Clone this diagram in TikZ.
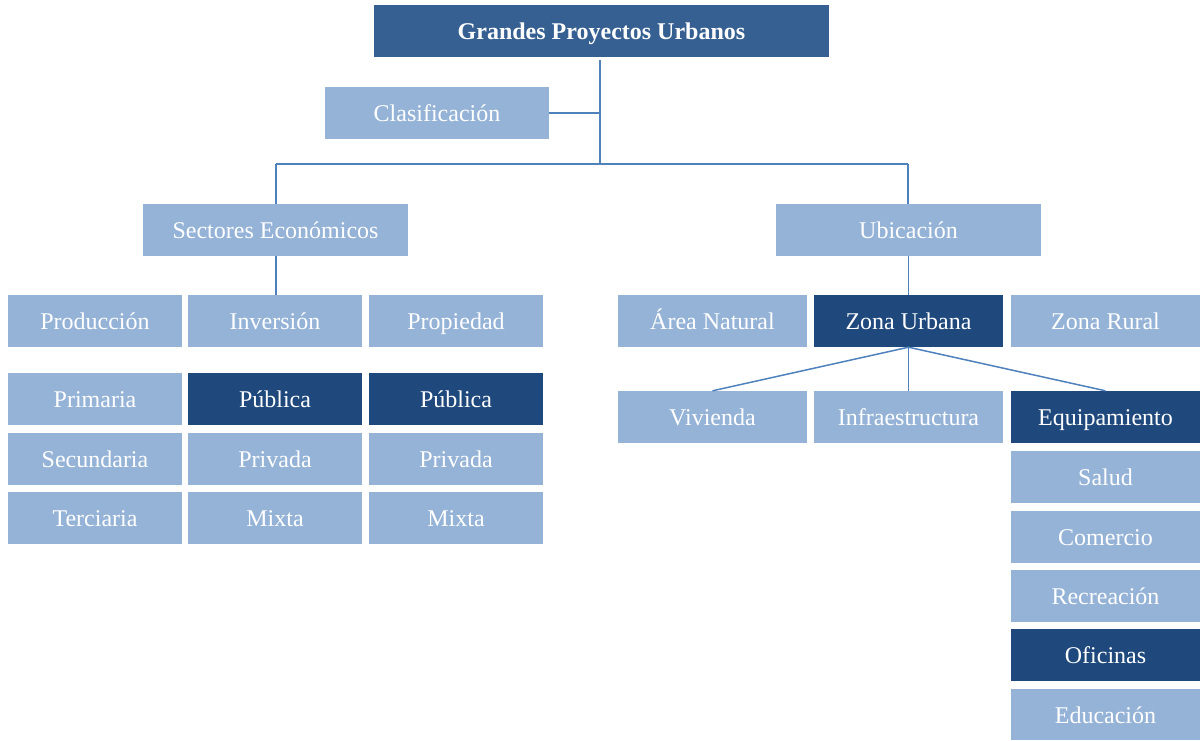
\documentclass[tikz,border=0pt]{standalone}
\usepackage{fontspec}
\setmainfont{Liberation Serif}
\definecolor{light}{RGB}{149,179,215}
\definecolor{dark}{RGB}{31,73,125}
\definecolor{mid}{RGB}{54,96,146}
\definecolor{conn}{RGB}{79,129,189}
\begin{document}
\begin{tikzpicture}[x=1pt,y=-1pt,
  box/.style={rectangle,inner sep=0pt,text=white,font=\fontsize{24}{28}\selectfont,text height=18pt,text depth=1pt},
  lbox/.style={box,fill=light},
  dbox/.style={box,fill=dark},
  conline/.style={draw=conn,line width=1.5pt}]
\useasboundingbox (0,0) rectangle (1200,740);
% helper: node by corners
\newcommand{\bx}[7]{\node[#1,minimum width={#4-#3},minimum height={#6-#5}] (#2) at ({(#3+#4)/2},{(#5+#6)/2}) {#7};}
\bx{box,fill=mid,font=\fontsize{24}{28}\selectfont\bfseries}{gpu}{374}{829}{5}{57}{Grandes Proyectos Urbanos}
\bx{lbox}{clas}{325}{549}{87}{139}{Clasificación}
\bx{lbox}{sec}{143}{408}{204}{256}{Sectores Económicos}
\bx{lbox}{ubi}{776}{1041}{204}{256}{Ubicación}
% left row 1
\bx{lbox}{prod}{8}{182}{295}{347}{Producción}
\bx{lbox}{inv}{188}{362}{295}{347}{Inversión}
\bx{lbox}{prop}{369}{543}{295}{347}{Propiedad}
\bx{lbox}{prim}{8}{182}{373}{425}{Primaria}
\bx{dbox}{pub1}{188}{362}{373}{425}{Pública}
\bx{dbox}{pub2}{369}{543}{373}{425}{Pública}
\bx{lbox}{secu}{8}{182}{433}{485}{Secundaria}
\bx{lbox}{pri1}{188}{362}{433}{485}{Privada}
\bx{lbox}{pri2}{369}{543}{433}{485}{Privada}
\bx{lbox}{terc}{8}{182}{492}{544}{Terciaria}
\bx{lbox}{mix1}{188}{362}{492}{544}{Mixta}
\bx{lbox}{mix2}{369}{543}{492}{544}{Mixta}
% right
\bx{lbox}{area}{618}{807}{295}{347}{Área Natural}
\bx{dbox}{zu}{814}{1003}{295}{347}{Zona Urbana}
\bx{lbox}{zr}{1011}{1200}{295}{347}{Zona Rural}
\bx{lbox}{viv}{618}{807}{391}{443}{Vivienda}
\bx{lbox}{inf}{814}{1003}{391}{443}{Infraestructura}
\bx{dbox}{equ}{1011}{1200}{391}{443}{Equipamiento}
\bx{lbox}{sal}{1011}{1200}{451}{503}{Salud}
\bx{lbox}{com}{1011}{1200}{511}{563}{Comercio}
\bx{lbox}{rec}{1011}{1200}{570}{622}{Recreación}
\bx{dbox}{ofi}{1011}{1200}{629}{681}{Oficinas}
\bx{lbox}{edu}{1011}{1200}{689}{740}{Educación}
% connectors
\coordinate (hub) at (600,164);
\coordinate (hl) at (276,164);
\coordinate (hr) at (908,164);
\draw[conline] ([yshift=-3pt]gpu.south -| hub) -- (hub);
\draw[conline] (clas.east) -- (clas.east -| hub);
\draw[conline] (hl) -- (hr);
\draw[conline] (hl) -- (hl |- sec.north);
\draw[conline] (hr) -- (hr |- ubi.north);
\draw[conline] (sec.south -| hl) -- (hl |- inv.north);
\draw[conline] (ubi.south) -- (zu.north);
\draw[conline] (zu.south) -- (viv.north);
\draw[conline] (zu.south) -- (inf.north);
\draw[conline] (zu.south) -- (equ.north);
\end{tikzpicture}
\end{document}
